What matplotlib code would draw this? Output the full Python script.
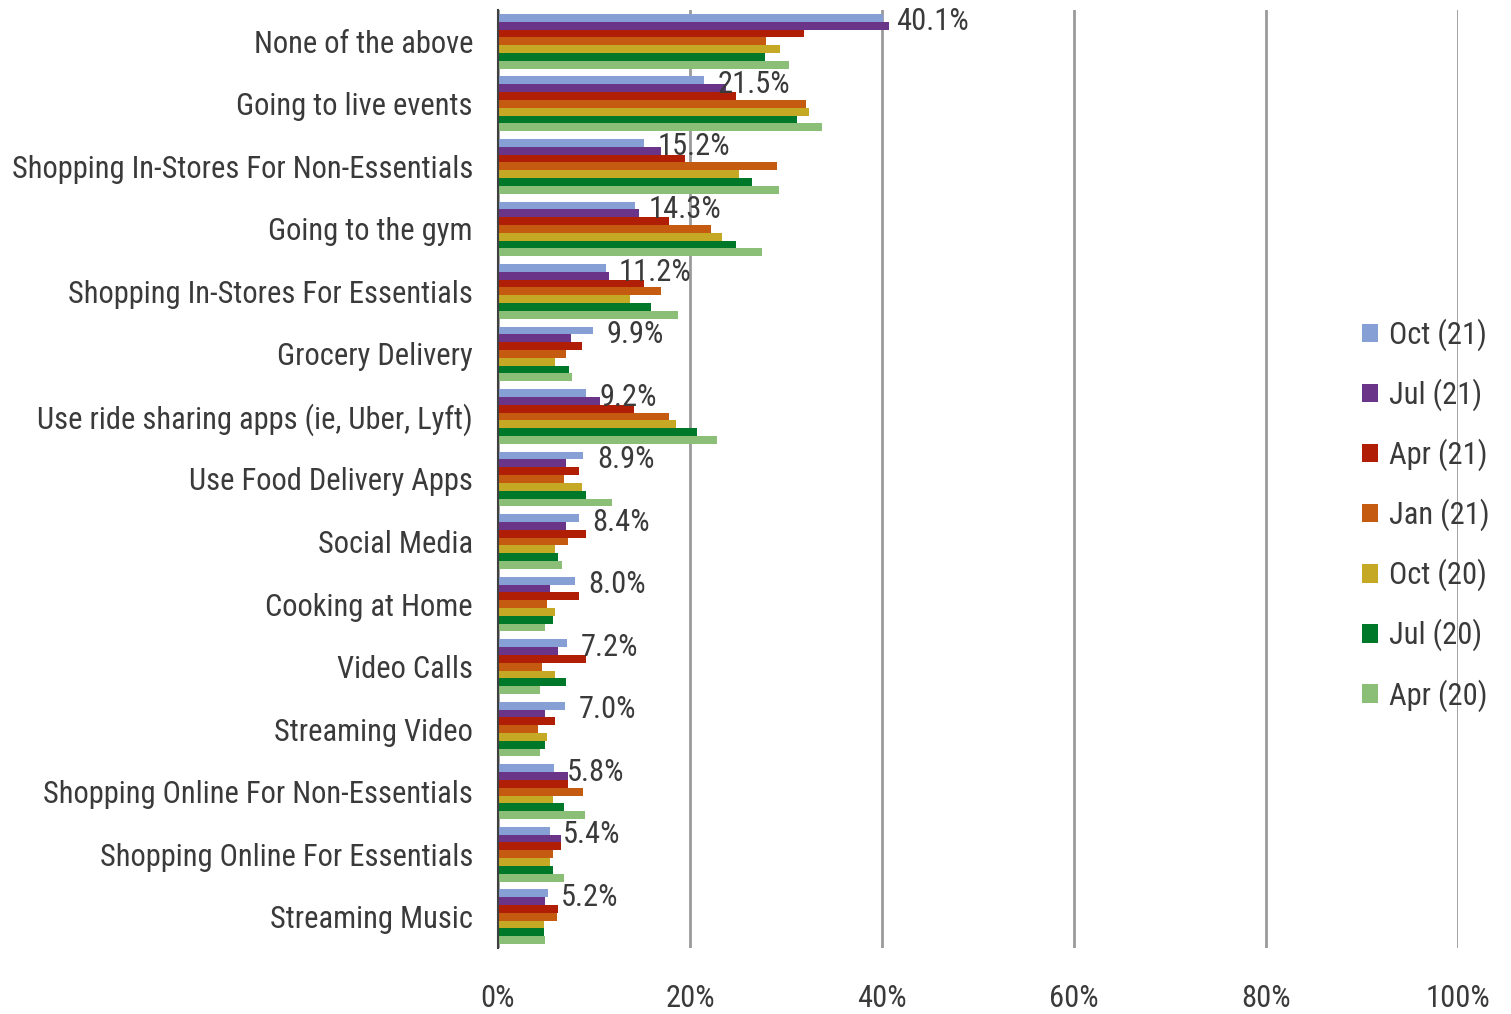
import matplotlib
matplotlib.use("Agg")
import matplotlib.pyplot as plt
import numpy as np
from matplotlib.patches import Patch

plt.rcParams['font.family'] = ['Roboto Condensed', 'DejaVu Sans']

categories = [
    "None of the above",
    "Going to live events",
    "Shopping In-Stores For Non-Essentials",
    "Going to the gym",
    "Shopping In-Stores For Essentials",
    "Grocery Delivery",
    "Use ride sharing apps (ie, Uber, Lyft)",
    "Use Food Delivery Apps",
    "Social Media",
    "Cooking at Home",
    "Video Calls",
    "Streaming Video",
    "Shopping Online For Non-Essentials",
    "Shopping Online For Essentials",
    "Streaming Music",
]

series_names = ["Oct (21)", "Jul (21)", "Apr (21)", "Jan (21)", "Oct (20)", "Jul (20)", "Apr (20)"]

oct21 = [40.1, 21.5, 15.2, 14.3, 11.2, 9.9, 9.2, 8.9, 8.4, 8.0, 7.2, 7.0, 5.8, 5.4, 5.2]
jul21 = [40.7, 23.7, 17.0, 14.7, 11.6, 7.6, 10.6, 7.1, 7.1, 5.4, 6.2, 4.9, 7.3, 6.6, 4.9]
apr21 = [31.9, 24.8, 19.5, 17.8, 15.2, 8.7, 14.2, 8.4, 9.2, 8.4, 9.2, 5.9, 7.3, 6.6, 6.2]
jan21 = [27.9, 32.1, 29.1, 22.2, 17.0, 7.1, 17.8, 6.9, 7.3, 5.1, 4.6, 4.2, 8.9, 5.7, 6.1]
oct20 = [29.4, 32.4, 25.1, 23.3, 13.7, 5.9, 18.5, 8.7, 5.9, 5.9, 5.9, 5.1, 5.7, 5.4, 4.8]
jul20 = [27.8, 31.1, 26.5, 24.8, 15.9, 7.4, 20.7, 9.2, 6.2, 5.7, 7.1, 4.9, 6.9, 5.7, 4.8]
apr20 = [30.3, 33.7, 29.3, 27.5, 18.7, 7.7, 22.8, 11.9, 6.7, 4.9, 4.4, 4.4, 9.1, 6.9, 4.9]

label_texts = ["40.1%", "21.5%", "15.2%", "14.3%", "11.2%", "9.9%", "9.2%", "8.9%",
               "8.4%", "8.0%", "7.2%", "7.0%", "5.8%", "5.4%", "5.2%"]

xticks = [0, 20, 40, 60, 80, 100]
xtick_labels = ["0%", "20%", "40%", "60%", "80%", "100%"]

colors = ["#869FD4", "#6A3589", "#B01E05", "#C55A11", "#C5A823", "#00782A", "#8BBF77"]

series = [oct21, jul21, apr21, jan21, oct20, jul20, apr20]

fig = plt.figure(figsize=(15.11, 10.14), dpi=100)
ax = fig.add_axes([498/1511, 1 - 948/1014, (1458-498)/1511, (948-10)/1014])

n = len(categories)
y = np.arange(n)
bh = 0.125
for k, (vals, col) in enumerate(zip(series, colors)):
    offs = (k - 3) * bh
    ax.barh(y + offs, vals, height=bh, color=col, zorder=3, label=series_names[k])

FS = 22
TXT = "#3a3a3a"
for i, (v, t) in enumerate(zip(oct21, label_texts)):
    ax.text(v + 1.4, i - 0.31, t, va="center", ha="left", fontsize=FS, color=TXT, zorder=5)

ax.set_xlim(0, 100)
ax.set_ylim(n - 0.5, -0.5)
ax.set_xticks(xticks)
ax.set_xticklabels(xtick_labels, fontsize=FS, color=TXT)
ax.set_yticks(y)
ax.set_yticklabels(categories, fontsize=FS, color=TXT)
ax.tick_params(axis="x", length=0, pad=26)
ax.tick_params(axis="y", length=0, pad=18)
ax.grid(axis="x", color="#9a9a9a", linewidth=2, zorder=0)
for s in ["top", "right", "bottom"]:
    ax.spines[s].set_visible(False)
ax.spines["left"].set_color("#404040")
ax.spines["left"].set_linewidth(1.5)
ax.spines["left"].set_zorder(4)

handles = [Patch(facecolor=c, edgecolor="none") for c in colors]
fig.legend(handles, series_names, loc="center left", bbox_to_anchor=(1334/1511, 1 - 515/1014),
           frameon=False, fontsize=FS, labelcolor=TXT, handlelength=0.55, handleheight=0.55,
           handletextpad=0.35, labelspacing=0.9)

fig.savefig("out.png", dpi=100)
